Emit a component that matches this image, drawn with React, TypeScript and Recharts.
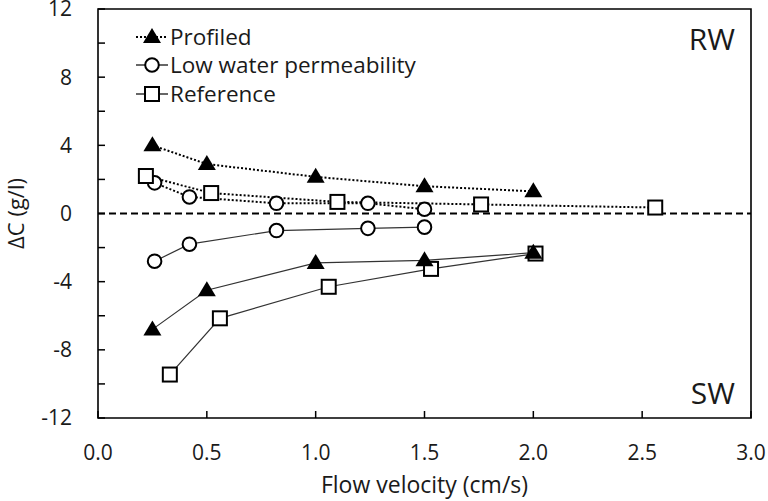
import {
  LineChart, Line, XAxis, YAxis, ReferenceLine, ReferenceArea, Label,
} from 'recharts';

// RW side (dotted) and SW side (solid), flow velocity in cm/s, ΔC in g/l
const profiledRwX = [0.25, 0.5, 1.0, 1.5, 2.0];
const profiledRwY = [4.0, 2.9, 2.15, 1.6, 1.3];
const lowRwX = [0.26, 0.42, 0.82, 1.24, 1.5];
const lowRwY = [1.8, 0.97, 0.6, 0.6, 0.25];
const refRwX = [0.22, 0.52, 1.1, 1.76, 2.56];
const refRwY = [2.2, 1.2, 0.68, 0.53, 0.35];

const profiledSwX = [0.25, 0.5, 1.0, 1.5, 2.0];
const profiledSwY = [-6.8, -4.5, -2.9, -2.75, -2.3];
const lowSwX = [0.26, 0.42, 0.82, 1.24, 1.5];
const lowSwY = [-2.8, -1.8, -1.0, -0.87, -0.8];
const refSwX = [0.33, 0.56, 1.06, 1.53, 2.01];
const refSwY = [-9.45, -6.15, -4.3, -3.25, -2.35];

const xTicks = [0, 0.5, 1.0, 1.5, 2.0, 2.5, 3.0];
const yTicks = [-12, -10, -8, -6, -4, -2, 0, 2, 4, 6, 8, 10, 12];

const zip = (xs: number[], ys: number[]) => xs.map((x, i) => ({ x, y: ys[i] }));

const FONT = '"Open Sans", Lato, sans-serif';
const INK = '#1a1a1a';

function Triangle({ cx, cy }: { cx?: number; cy?: number }) {
  if (cx == null || cy == null) return null;
  return <path d={`M${cx},${cy - 9} L${cx - 9},${cy + 6} L${cx + 9},${cy + 6} Z`} fill="#000" />;
}

function Circle({ cx, cy }: { cx?: number; cy?: number }) {
  if (cx == null || cy == null) return null;
  return <circle cx={cx} cy={cy} r={6.8} fill="#fff" stroke="#000" strokeWidth={2} />;
}

function Square({ cx, cy }: { cx?: number; cy?: number }) {
  if (cx == null || cy == null) return null;
  return <rect x={cx - 7} y={cy - 7} width={14} height={14} fill="#fff" stroke="#000" strokeWidth={2} />;
}

const legendItems = [
  { name: 'Profiled', dash: '2 2', Marker: Triangle },
  { name: 'Low water permeability', dash: undefined, Marker: Circle },
  { name: 'Reference', dash: undefined, Marker: Square },
];

function LegendBox() {
  return (
    <div style={{ position: 'absolute', top: 22.5, left: 135, fontFamily: FONT, fontSize: 22.5, color: INK }}>
      {legendItems.map(({ name, dash, Marker }) => (
        <div key={name} style={{ display: 'flex', alignItems: 'center', height: 28.5 }}>
          <svg width={34} height={22} style={{ display: 'block' }}>
            <line x1={1} x2={33} y1={11} y2={11} stroke="#000" strokeWidth={dash ? 2 : 1.2} strokeDasharray={dash} />
            <Marker cx={17} cy={11} />
          </svg>
          <span style={{ marginLeft: 1, lineHeight: '26px' }}>{name}</span>
        </div>
      ))}
    </div>
  );
}

export default function App() {
  const tickStyle = { fontSize: 21, fill: INK, fontFamily: FONT };
  const tickLine = { stroke: '#000', strokeWidth: 1.5 };
  const dotted = { stroke: '#000', strokeWidth: 2, strokeDasharray: '2 2' };
  const solid = { stroke: '#333', strokeWidth: 1.2 };
  const common = {
    xAxisId: 'x', yAxisId: 'y', dataKey: 'y', type: 'linear' as const,
    isAnimationActive: false, legendType: 'none' as const,
  };

  return (
    <div style={{ position: 'absolute', left: 0, top: 0, width: 768, height: 501 }}>
      <LineChart width={768} height={501} margin={{ top: 9, right: 17, bottom: 0, left: 0 }}>
        <XAxis
          xAxisId="x" type="number" dataKey="x" domain={[0, 3]} ticks={xTicks} allowDataOverflow
          tickFormatter={(v: number) => v.toFixed(1)} tick={tickStyle} tickLine={tickLine} axisLine={false}
          tickSize={-7} tickMargin={34} height={83} interval={0}
        >
          <Label value="Flow velocity (cm/s)" position="insideBottom" offset={8}
            style={{ fontSize: 23, fill: INK, fontFamily: FONT }} />
        </XAxis>
        <YAxis
          yAxisId="y" type="number" domain={[-12, 12]} ticks={yTicks} allowDataOverflow
          tickFormatter={(v: number) => (v % 4 === 0 ? String(v) : '')}
          tick={tickStyle} tickLine={tickLine} axisLine={false} tickSize={-7} tickMargin={33} width={98} interval={0}
        >
          <Label value="ΔC (g/l)" angle={-90} position="insideLeft" offset={16}
            style={{ fontSize: 22, fill: INK, fontFamily: FONT, textAnchor: 'middle' }} />
        </YAxis>

        <ReferenceArea xAxisId="x" yAxisId="y" x1={0} x2={3} y1={-12} y2={12}
          fill="none" stroke="#000" strokeWidth={1.6} ifOverflow="visible">
          <Label value="RW" position="insideTopRight" offset={16} dy={4}
            style={{ fontSize: 30, fill: INK, fontFamily: FONT }} />
          <Label value="SW" position="insideBottomRight" offset={16} dy={2}
            style={{ fontSize: 30, fill: INK, fontFamily: FONT }} />
        </ReferenceArea>
        <ReferenceLine xAxisId="x" yAxisId="y" y={0} stroke="#000" strokeWidth={2} strokeDasharray="7 4" />

        <Line {...common} data={zip(profiledRwX, profiledRwY)} {...dotted} dot={(p: any) => <Triangle key={p.index} cx={p.cx} cy={p.cy} />} />
        <Line {...common} data={zip(lowRwX, lowRwY)} {...dotted} dot={(p: any) => <Circle key={p.index} cx={p.cx} cy={p.cy} />} />
        <Line {...common} data={zip(refRwX, refRwY)} {...dotted} dot={(p: any) => <Square key={p.index} cx={p.cx} cy={p.cy} />} />
        <Line {...common} data={zip(lowSwX, lowSwY)} {...solid} dot={(p: any) => <Circle key={p.index} cx={p.cx} cy={p.cy} />} />
        <Line {...common} data={zip(refSwX, refSwY)} {...solid} dot={(p: any) => <Square key={p.index} cx={p.cx} cy={p.cy} />} />
        <Line {...common} data={zip(profiledSwX, profiledSwY)} {...solid} dot={(p: any) => <Triangle key={p.index} cx={p.cx} cy={p.cy} />} />
      </LineChart>
      <LegendBox />
    </div>
  );
}
